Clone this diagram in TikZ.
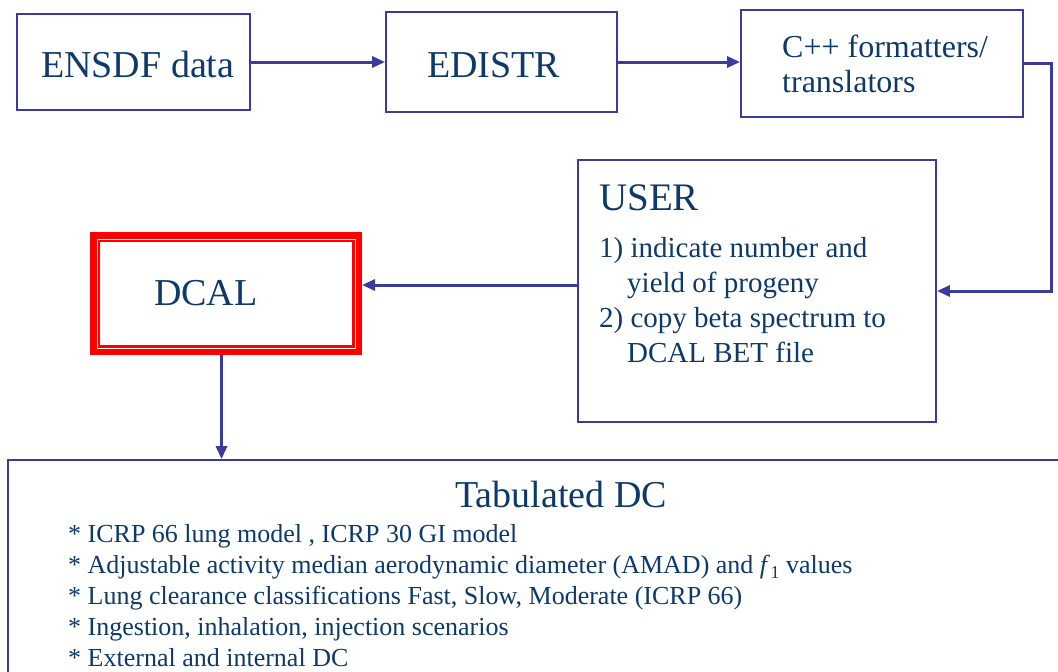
\documentclass[tikz,border=0pt]{standalone}
\usepackage{fontspec}
\setmainfont{Liberation Serif}
\usetikzlibrary{arrows.meta}
\definecolor{txt}{HTML}{0D3A6B}
\definecolor{ln}{HTML}{3B3B9E}
\definecolor{dcred}{HTML}{FF0000}
\tikzset{
  boxnode/.style={draw=ln, line width=1.8pt, minimum width=#1, inner sep=0pt},
  conn/.style={draw=ln, line width=3pt, -{Triangle[length=13pt,width=11pt]}},
  big/.style={anchor=base west, text=txt, inner sep=0pt, font=\fontsize{38}{40}\selectfont},
  mid/.style={anchor=base west, text=txt, inner sep=0pt, font=\fontsize{32}{34}\selectfont},
  lst/.style={anchor=base west, text=txt, inner sep=0pt, font=\fontsize{29}{31}\selectfont},
  bul/.style={anchor=base west, text=txt, inner sep=0pt, font=\fontsize{26}{28}\selectfont},
}
\begin{document}
\begin{tikzpicture}[x=1pt,y=-1pt]
\clip (0,0) rectangle (1058,672);
\fill[white] (0,0) rectangle (1058,672);

% boxes
\node[boxnode=233pt, minimum height=96pt] (ensdf) at (133.5,62) {};
\node[boxnode=231pt, minimum height=100pt] (edistr) at (501.5,62) {};
\node[boxnode=282pt, minimum height=107pt] (cpp) at (882,63.5) {};
\node[boxnode=358pt, minimum height=262pt] (user) at (757,291) {};
\node[boxnode=1100pt, minimum height=260pt] (tab) at (558,590) {};

% DCAL box with red double border
\node[draw=dcred, line width=10pt, minimum width=262pt, minimum height=113pt, inner sep=0pt] (dcal) at (226,293.5) {};
\draw[white, line width=0.9pt] ([xshift=-7pt,yshift=-7pt]dcal.north east) rectangle ([xshift=7pt,yshift=7pt]dcal.south west);

% texts
\node[big] (t1) at (41,77) {ENSDF data};
\node[big] (t2) at (427,77) {EDISTR};
\node[mid] (t3a) at (782,57) {C++ formatters/};
\node[mid] (t3b) at (782,92) {translators};
\node[big, font=\fontsize{39}{41}\selectfont] (t4) at (599,210) {USER};
\node[lst] (l1) at (599,257) {1) indicate number and};
\node[lst] (l2) at (627,292) {yield of progeny};
\node[lst] (l3) at (599,327) {2) copy beta spectrum to};
\node[lst] (l4) at (627,362) {DCAL BET file};
\node[big] (t5) at (154,305) {DCAL};
\node[big] (t6) at (455,507) {Tabulated DC};
\node[bul] (b1) at (68,542) {* ICRP 66 lung model , ICRP 30 GI model};
\node[bul] (b2) at (68,573) {* Adjustable activity median aerodynamic diameter (AMAD) and \textit{f}\kern0.5pt\raisebox{-5pt}{\fontsize{18}{20}\selectfont 1}\ values};
\node[bul] (b3) at (68,604) {* Lung clearance classifications Fast, Slow, Moderate (ICRP 66)};
\node[bul] (b4) at (68,635) {* Ingestion, inhalation, injection scenarios};
\node[bul] (b5) at (68,666) {* External and internal DC};

% connectors
\draw[conn] (ensdf.east) -- (edistr.west);
\draw[conn] (edistr.east) -- (edistr.east -| cpp.west);
\coordinate (c1) at (1051,63.5);
\draw[conn] (cpp.east) -- (c1) |- (user.east);
\draw[conn] ([yshift=6pt]user.west) -- ([yshift=6pt]user.west -| dcal.east);
\draw[conn] ([xshift=-4.5pt]dcal.south) -- ([xshift=-4.5pt]dcal.south |- tab.north);
\end{tikzpicture}
\end{document}
